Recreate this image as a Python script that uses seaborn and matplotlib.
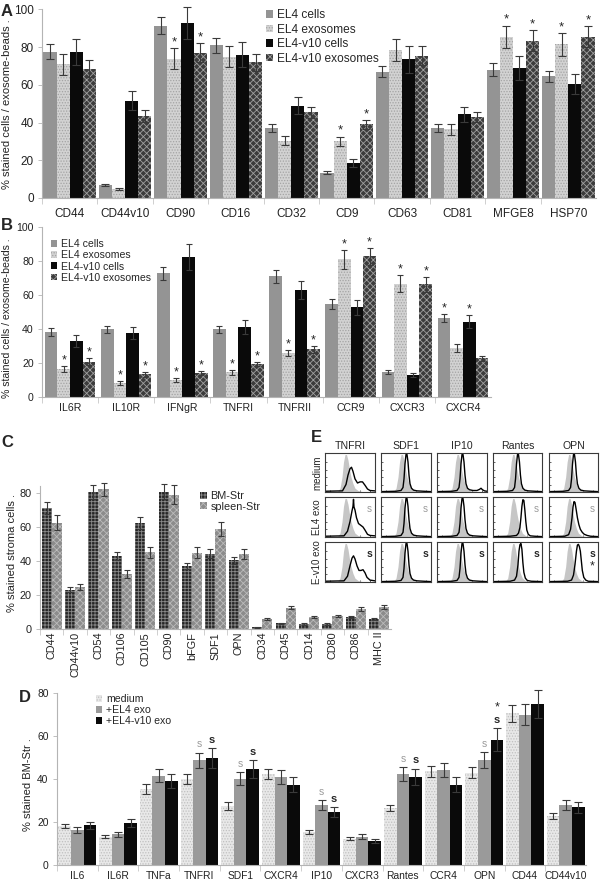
import numpy as np
import pandas as pd
import matplotlib
matplotlib.use("Agg")
import matplotlib.pyplot as plt
import seaborn as sns
from matplotlib.patches import Patch

sns.set_style("ticks")
plt.rcParams['font.family'] = ['Liberation Sans', 'DejaVu Sans']
plt.rcParams['hatch.linewidth'] = 0.6

# ---------------- panel A: exosome / cell markers ----------------
A_markers = ["CD44", "CD44v10", "CD90", "CD16", "CD32", "CD9", "CD63", "CD81", "MFGE8", "HSP70"]
A_el4_cells = [77.5, 7, 91.5, 81, 37, 13.5, 67, 37, 68, 64.5]
A_el4_cells_err = [4, 0.5, 4.5, 4, 2, 1, 3, 2, 3.5, 3]
A_el4_exo = [71, 5, 74, 75, 30.5, 30, 78.5, 36.5, 85.5, 81.5]
A_el4_exo_err = [5.5, 0.5, 5.5, 5.5, 2.5, 2.5, 6, 3, 6, 6]
A_v10_cells = [77.5, 51.5, 93, 76, 49, 18.5, 73.5, 44.5, 69, 60.5]
A_v10_cells_err = [7, 5, 8.5, 6.5, 4.5, 2, 7, 4, 6.5, 5.5]
A_v10_exo = [68.5, 43.5, 77, 72, 45.5, 39, 75.5, 43, 83.5, 85.5]
A_v10_exo_err = [4.5, 3, 5, 4.5, 3, 2.5, 5, 2.5, 5.5, 5.5]
A_stars = [(2, 1), (2, 3), (5, 1), (5, 3), (8, 1), (8, 3), (9, 1), (9, 3)]

# ---------------- panel B: receptors ----------------
B_markers = ["IL6R", "IL10R", "IFNgR", "TNFRI", "TNFRII", "CCR9", "CXCR3", "CXCR4"]
B_el4_cells = [38.5, 40, 73, 40, 71, 55, 15, 46.5]
B_el4_cells_err = [2.3, 2.2, 3.8, 2.2, 3.8, 3, 1, 2.5]
B_el4_exo = [16.5, 8.3, 10.3, 14.7, 26, 81, 66.8, 28.8]
B_el4_exo_err = [1.7, 1.2, 1.1, 1.3, 1.8, 5.5, 4.8, 2.3]
B_v10_cells = [33.3, 37.8, 82.5, 41.5, 63, 52.8, 13, 44.5]
B_v10_cells_err = [3.6, 3.3, 7.5, 4.2, 5.5, 4.6, 1.2, 4]
B_v10_exo = [21, 13.5, 14.3, 19.7, 28.3, 82.8, 66.3, 23]
B_v10_exo_err = [1.9, 1.2, 1.1, 1.3, 2.1, 5, 4.4, 1.6]
B_stars = [(0, 1), (0, 3), (1, 1), (1, 3), (2, 1), (2, 3), (3, 1), (3, 3),
           (4, 1), (4, 3), (5, 1), (5, 3), (6, 1), (6, 3), (7, 0), (7, 2)]

# ---------------- panel C: stroma cells ----------------
C_markers = ["CD44", "CD44v10", "CD54", "CD106", "CD105", "CD90", "bFGF", "SDF1", "OPN",
             "CD34", "CD45", "CD14", "CD80", "CD86", "MHC II"]
C_bm = [71, 23.2, 80.5, 43, 62.3, 80.7, 37, 44.2, 40.3, 1, 3.3, 3, 3, 6.8, 6]
C_bm_err = [3.5, 1.4, 4, 2.4, 3.4, 4.3, 2, 2.5, 2.2, 0.3, 0.4, 0.4, 0.4, 0.6, 0.6]
C_spleen = [62.4, 24.8, 82, 32.5, 45, 79, 44.7, 58.8, 44, 6, 12.5, 7, 7.9, 11.8, 13]
C_spleen_err = [4.5, 1.7, 3.8, 2.4, 3.3, 5.7, 3.2, 4.1, 3, 0.5, 1, 0.5, 0.6, 1, 1]

# ---------------- panel D: BM-Str after exosome uptake ----------------
D_markers = ["IL6", "IL6R", "TNFa", "TNFRI", "SDF1", "CXCR4", "IP10", "CXCR3", "Rantes",
             "CCR4", "OPN", "CD44", "CD44v10"]
D_medium = [18.3, 13.2, 35.5, 39.8, 27.5, 42.3, 15.3, 12.2, 26.5, 43.5, 43, 70.5, 22.7]
D_medium_err = [1, 0.8, 2.3, 2.3, 1.8, 2.5, 1, 0.7, 1.6, 2.5, 2.5, 3.8, 1.4]
D_el4 = [16.2, 14.2, 41.5, 48.7, 40.2, 41, 28, 13.2, 42.3, 44, 48.8, 70, 28]
D_el4_err = [1.3, 1.3, 3, 3.5, 3.1, 3.4, 2.2, 1, 3.1, 3.3, 3.7, 5, 2.2]
D_v10 = [18.4, 19.6, 39, 49.8, 44.6, 37.4, 24.6, 11.3, 41, 37.4, 58.3, 74.8, 26.9]
D_v10_err = [1.8, 1.8, 3.4, 4.6, 4.2, 3.6, 2.4, 0.9, 3.8, 3.6, 5.2, 6.5, 2.6]
D_sig = [3, 4, 6, 8, 10]      # "s" over both exosome groups
D_star = [10]                 # "*" EL4-v10 vs EL4 exo

# ---------------- panel E: flow histograms ----------------
E_cols = ["TNFRI", "SDF1", "IP10", "Rantes", "OPN"]
E_rows = ["medium", "EL4 exo", "E-v10 exo"]
E_ctrl_x = [0.00, 0.25, 0.30, 0.34, 0.37, 0.40, 0.43, 0.46, 0.49, 0.52, 0.56, 0.60, 0.66, 0.75, 1.00]
E_ctrl_y = [0.00, 0.01, 0.10, 0.40, 0.80, 1.00, 1.00, 0.85, 0.60, 0.40, 0.22, 0.10, 0.04, 0.01, 0.00]
E_curves = {
    "tnfri_med": ([0, 0.35, 0.42, 0.46, 0.50, 0.53, 0.56, 0.60, 0.65, 0.70, 0.75, 0.80, 0.85, 0.90, 1.0],
                  [0.02, 0.03, 0.20, 0.45, 0.62, 0.66, 0.55, 0.35, 0.24, 0.27, 0.27, 0.18, 0.08, 0.04, 0.03]),
    "tnfri_el4": ([0, 0.38, 0.45, 0.50, 0.54, 0.56, 0.57, 0.58, 0.60, 0.63, 0.67, 0.72, 0.76, 0.80, 0.85, 0.90, 1.0],
                  [0.02, 0.03, 0.15, 0.40, 0.68, 0.80, 0.98, 0.78, 0.70, 0.50, 0.35, 0.30, 0.26, 0.18, 0.07, 0.04, 0.03]),
    "tnfri_v10": ([0, 0.38, 0.45, 0.50, 0.54, 0.57, 0.60, 0.64, 0.68, 0.72, 0.76, 0.80, 0.84, 0.90, 1.0],
                  [0.02, 0.03, 0.15, 0.42, 0.62, 0.68, 0.60, 0.42, 0.30, 0.30, 0.32, 0.24, 0.12, 0.05, 0.03]),
    "sharp": ([0, 0.30, 0.40, 0.44, 0.46, 0.48, 0.50, 0.52, 0.54, 0.56, 0.58, 0.61, 0.65, 0.72, 0.85, 1.0],
              [0.01, 0.02, 0.04, 0.12, 0.35, 0.75, 1.00, 1.00, 0.80, 0.45, 0.22, 0.10, 0.05, 0.03, 0.02, 0.01]),
    "ip10": ([0, 0.30, 0.40, 0.44, 0.46, 0.48, 0.50, 0.52, 0.54, 0.56, 0.58, 0.61, 0.65, 0.72, 0.80, 0.85, 0.88, 0.91, 0.95, 1.0],
             [0.01, 0.02, 0.04, 0.12, 0.35, 0.75, 1.00, 1.00, 0.80, 0.45, 0.22, 0.10, 0.06, 0.04, 0.04, 0.07, 0.10, 0.06, 0.03, 0.02]),
    "right": ([0, 0.35, 0.48, 0.52, 0.55, 0.57, 0.59, 0.61, 0.63, 0.65, 0.67, 0.69, 0.72, 0.76, 0.85, 1.0],
              [0.01, 0.02, 0.04, 0.10, 0.25, 0.50, 0.80, 0.97, 0.95, 0.70, 0.40, 0.18, 0.07, 0.03, 0.02, 0.01]),
    "mid": ([0, 0.35, 0.44, 0.48, 0.51, 0.53, 0.55, 0.57, 0.59, 0.61, 0.63, 0.66, 0.70, 0.78, 1.0],
            [0.01, 0.02, 0.05, 0.15, 0.45, 0.80, 0.97, 1.00, 0.85, 0.50, 0.25, 0.10, 0.04, 0.02, 0.01]),
    "broad": ([0, 0.32, 0.40, 0.44, 0.47, 0.49, 0.51, 0.53, 0.55, 0.58, 0.61, 0.64, 0.68, 0.72, 0.78, 0.85, 1.0],
              [0.01, 0.02, 0.06, 0.20, 0.50, 0.78, 0.92, 0.90, 0.75, 0.50, 0.32, 0.20, 0.12, 0.07, 0.04, 0.02, 0.01]),
    "opn_v10": ([0, 0.38, 0.46, 0.50, 0.53, 0.56, 0.58, 0.60, 0.62, 0.64, 0.66, 0.68, 0.71, 0.75, 0.80, 1.0],
                [0.01, 0.02, 0.05, 0.18, 0.45, 0.80, 0.96, 0.98, 0.92, 0.80, 0.55, 0.30, 0.12, 0.05, 0.02, 0.01]),
}
E_lines = [["tnfri_med", "sharp", "ip10", "sharp", "sharp"],
           ["tnfri_el4", "sharp", "sharp", "right", "broad"],
           ["tnfri_v10", "sharp", "sharp", "mid", "opn_v10"]]

# bar styles: (face, hatch, hatch colour)
CELLS = ("#949494", None, "#949494")
EXO = ("#d2d2d2", "......", "#a4a4a4")
V10_CELLS = ("#0a0a0a", None, "#0a0a0a")
V10_EXO = ("#3c3c3c", "xxxxx", "#a0a0a0")
BM = ("#262626", "+++++", "#8a8a8a")
SPLEEN = ("#8c8c8c", "xxxxx", "#bcbcbc")
MEDIUM = ("#e8e8e8", "......", "#c0c0c0")
EL4_EXO = ("#9a9a9a", None, "#9a9a9a")

W, H = 600, 881
fig = plt.figure(figsize=(W / 100, H / 100), dpi=100)
fig.patch.set_facecolor("white")


def px_axes(left, top, right, bottom):
    return fig.add_axes([left / W, 1 - bottom / H, (right - left) / W, (bottom - top) / H])


def draw_bars(ax, cats, names, values, errors, styles, width, cap):
    frame = pd.DataFrame({
        "marker": np.tile(cats, len(names)),
        "group": np.repeat(names, len(cats)),
        "value": np.concatenate(values),
    })
    sns.barplot(data=frame, x="marker", y="value", hue="group", order=cats, hue_order=names,
                palette=[s[0] for s in styles], errorbar=None, width=width, saturation=1,
                legend=False, ax=ax)
    tops = []
    for bars, err, (fc, hatch, hc) in zip(ax.containers, errors, styles):
        xs, ys = [], []
        for bar in bars:
            bar.set_facecolor(fc)
            bar.set_hatch(hatch)
            bar.set_edgecolor(hc)
            bar.set_linewidth(0)
            xs.append(bar.get_x() + bar.get_width() / 2)
            ys.append(bar.get_height())
        ax.errorbar(xs, ys, yerr=err, fmt="none", ecolor="#3a3a3a", elinewidth=0.8,
                    capsize=cap, capthick=0.8, clip_on=False, zorder=3)
        tops.append([(x, y + e) for x, y, e in zip(xs, ys, err)])
    return tops


def excel_style(ax, n, ymax, yticks, fs, pad, rot=0):
    ax.set_ylim(0, ymax)
    ax.set_xlim(-0.5, n - 0.5)
    ax.set_yticks(yticks)
    ax.set_xticks(np.arange(n) - 0.5, minor=True)
    sns.despine(ax=ax)
    for s in ("left", "bottom"):
        ax.spines[s].set_color("#b4b4b4")
        ax.spines[s].set_linewidth(0.8)
    ax.tick_params(axis="x", which="major", length=0, pad=pad, labelsize=fs, colors="#222222",
                   labelrotation=rot)
    ax.tick_params(axis="x", which="minor", length=4, width=0.6, color="#c8c8c8")
    ax.tick_params(axis="y", length=3, width=0.6, color="#b4b4b4", labelsize=fs, pad=3,
                   labelcolor="#222222")
    ax.set_xlabel("")
    ax.set_ylabel("")
    ax.set_facecolor("none")


def legend(ax, names, styles, x, y, fs, spacing):
    handles = [Patch(facecolor=fc, edgecolor=hc, hatch=h, linewidth=0, label=n)
               for n, (fc, h, hc) in zip(names, styles)]
    ax.legend(handles=handles, loc="upper left", bbox_to_anchor=(x / W, 1 - y / H),
              bbox_transform=fig.transFigure, frameon=False, fontsize=fs, handlelength=0.6,
              handleheight=0.6, handletextpad=0.35, labelspacing=spacing, borderpad=0,
              borderaxespad=0)


ab_names = ["EL4 cells", "EL4 exosomes", "EL4-v10 cells", "EL4-v10 exosomes"]
ab_styles = [CELLS, EXO, V10_CELLS, V10_EXO]

# ---- A ----
axA = px_axes(42, 9.5, 596, 198)
topsA = draw_bars(axA, A_markers, ab_names,
                  [A_el4_cells, A_el4_exo, A_v10_cells, A_v10_exo],
                  [A_el4_cells_err, A_el4_exo_err, A_v10_cells_err, A_v10_exo_err],
                  ab_styles, 0.95, 2.6)
excel_style(axA, len(A_markers), 100, [0, 20, 40, 60, 80, 100], 8.5, 7)
for ci, si in A_stars:
    x, t = topsA[si][ci]
    axA.text(x, t + 1.5, "*", ha="center", va="baseline", fontsize=9.5)
legend(axA, ab_names, ab_styles, 266, 9, 8.6, 0.22)

# ---- B ----
axB = px_axes(42, 227, 491, 397.5)
topsB = draw_bars(axB, B_markers, ab_names,
                  [B_el4_cells, B_el4_exo, B_v10_cells, B_v10_exo],
                  [B_el4_cells_err, B_el4_exo_err, B_v10_cells_err, B_v10_exo_err],
                  ab_styles, 0.9, 2.4)
excel_style(axB, len(B_markers), 100, [0, 20, 40, 60, 80, 100], 7.6, 4)
for ci, si in B_stars:
    x, t = topsB[si][ci]
    axB.text(x, t + 1.5, "*", ha="center", va="baseline", fontsize=9)
legend(axB, ab_names, ab_styles, 51, 239, 7.6, 0.12)

# ---- C ----
c_names = ["BM-Str", "spleen-Str"]
axC = px_axes(40, 486, 391, 629)
draw_bars(axC, C_markers, c_names, [C_bm, C_spleen], [C_bm_err, C_spleen_err],
          [BM, SPLEEN], 0.86, 2.0)
excel_style(axC, len(C_markers), 84, [0, 20, 40, 60, 80], 7.8, 2, rot=90)
legend(axC, c_names, [BM, SPLEEN], 200, 491, 7.8, 0.05)

# ---- D ----
d_names = ["medium", "+EL4 exo", "+EL4-v10 exo"]
axD = px_axes(57, 693, 586, 865)
topsD = draw_bars(axD, D_markers, d_names, [D_medium, D_el4, D_v10],
                  [D_medium_err, D_el4_err, D_v10_err], [MEDIUM, EL4_EXO, V10_CELLS], 0.93, 2.6)
excel_style(axD, len(D_markers), 80, [0, 20, 40, 60, 80], 7.4, 4)
for ci in D_sig:
    x, t = topsD[1][ci]
    axD.text(x, t + 2.5, "s", ha="center", va="baseline", fontsize=7.5, color="#9a9a9a")
    x, t = topsD[2][ci]
    axD.text(x, t + 2.5, "s", ha="center", va="baseline", fontsize=8, fontweight="bold")
for ci in D_star:
    x, t = topsD[2][ci]
    axD.text(x, t + 8.5, "*", ha="center", va="baseline", fontsize=9)
legend(axD, d_names, [MEDIUM, EL4_EXO, V10_CELLS], 96, 694, 7.6, 0.1)

# ---- E ----
E_x = [(325, 375), (381, 431), (437, 487), (493, 542), (549, 598)]
E_y = [(453, 492), (497, 537), (542, 582)]
for r in range(3):
    for c in range(5):
        ax = px_axes(E_x[c][0], E_y[r][0], E_x[c][1], E_y[r][1])
        ax.fill_between(E_ctrl_x, 0, E_ctrl_y, color="#c6c6c6", linewidth=0)
        lx, ly = E_curves[E_lines[r][c]]
        ax.plot(lx, ly, color="black", linewidth=1.0)
        ax.set_xlim(0, 1)
        ax.set_ylim(0, 1.04)
        ax.set_xticks([0.1, 0.3, 0.5, 0.7, 0.9])
        ax.set_yticks([0.2, 0.4, 0.6, 0.8])
        ax.tick_params(direction="in", length=1.5, width=0.5, labelbottom=False, labelleft=False)
        for s in ax.spines.values():
            s.set_color("#3a3a3a")
            s.set_linewidth(0.8)
            s.set_visible(True)
        if r == 0:
            ax.set_title(E_cols[c], fontsize=7.6, pad=3)
        if c == 0:
            ax.set_ylabel(E_rows[r], fontsize=7.0, labelpad=2)
        if r == 1:
            ax.text(0.88, 0.7, "s", transform=ax.transAxes, ha="center", va="center",
                    fontsize=7, color="#9a9a9a")
        if r == 2:
            ax.text(0.88, 0.7, "s", transform=ax.transAxes, ha="center", va="center",
                    fontsize=7.5, fontweight="bold")
            if c == 4:
                ax.text(0.88, 0.38, "*", transform=ax.transAxes, ha="center", va="center",
                        fontsize=9)

# panel letters and axis titles
for letter, x, y in [("A", 1, 12), ("B", 1, 225), ("C", 1, 443), ("D", 19, 698), ("E", 311, 438)]:
    fig.text(x / W, 1 - y / H, letter, fontsize=12, fontweight="bold", ha="left", va="center")
for label, x, y, fs in [("% stained cells / exosome-beads .", 7, 104, 8),
                        ("% stained cells / exosome-beads .", 7, 318, 7.6),
                        ("% stained stroma cells .", 12, 553, 8),
                        ("% stained BM-Str .", 28, 785, 8)]:
    fig.text(x / W, 1 - y / H, label, rotation=90, fontsize=fs, ha="center", va="center",
             color="#222222")

fig.savefig("out.png", dpi=100, facecolor="white")
